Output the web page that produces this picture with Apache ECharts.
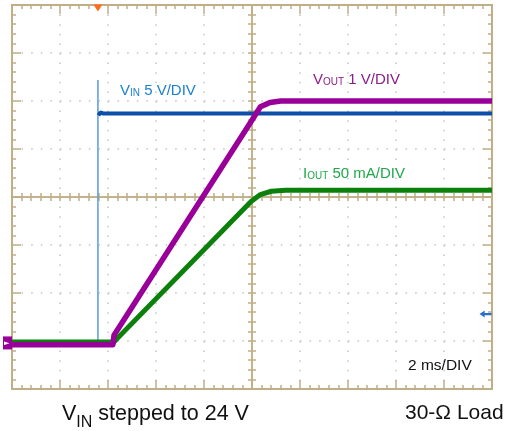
<!DOCTYPE html>
<html>
<head>
<meta charset="utf-8">
<script src="https://cdn.jsdelivr.net/npm/echarts@6/dist/echarts.min.js"></script>
<style>
  html, body { margin: 0; padding: 0; background: #fff; }
  #chart { width: 505px; height: 431px; }
</style>
</head>
<body>
<div id="chart"></div>
<script>
// time in ms (2 ms/DIV, 10 DIV across), level in divisions from bottom of screen (8 DIV)
const vinStepT = [0, 3.58, 3.58];
const vinStepV = [0.98, 0.98, 6.44];
const vinT = [3.6, 3.68, 3.8, 20];
const vinV = [5.70, 5.76, 5.74, 5.74];

const voutT = [0, 4.2, 4.25, 10.05, 10.35, 10.75, 11.2, 20];
const voutV = [0.92, 0.92, 1.12, 5.64, 5.88, 5.97, 6.0, 6.0];

const ioutT = [0, 4.25, 4.4, 9.95, 10.35, 10.8, 11.4, 20];
const ioutV = [0.98, 0.98, 1.06, 3.90, 4.05, 4.12, 4.14, 4.14];

const triggerT = 3.58;
const groundLevel = 0.96;
const vinRefT = 19.73;
const vinRefV = 1.56;

const FONT = "'Liberation Sans', Arial, sans-serif";
const TAN = '#c0ae86';
const DOT = '#c4c4c4';

const pairs = (t, v) => t.map((x, i) => [x, v[i]]);

const chart = echarts.init(document.getElementById('chart'));

const border = (pos, extra) => Object.assign({
  type: 'value', gridIndex: 0, position: pos,
  axisLine: { show: true, onZero: false, lineStyle: { color: TAN, width: 2 } },
  axisTick: { show: true, inside: true, length: 9, lineStyle: { color: TAN, width: 1.5 } },
  minorTick: { show: true, splitNumber: 5, length: 4, lineStyle: { color: TAN, width: 1.5 } },
  axisLabel: { show: false },
  splitLine: { show: false }
}, extra);

const center = (pos, offset, inside, extra) => Object.assign({
  type: 'value', gridIndex: 0, position: pos, offset: offset,
  axisLine: { show: true, onZero: false, lineStyle: { color: TAN, width: 1.5 } },
  axisTick: { show: true, inside: inside, length: 4, lineStyle: { color: TAN, width: 1.5 } },
  axisLabel: { show: false },
  splitLine: { show: false }
}, extra);

const option = {
  animation: false,
  backgroundColor: '#fff',
  grid: { left: 12, top: 5, width: 480, height: 384 },
  xAxis: [
    border('bottom', { min: 0, max: 20, interval: 2,
      splitLine: { show: true, lineStyle: { color: DOT, width: 1.5, type: [1.5, 8.1] } } }),
    border('top', { min: 0, max: 20, interval: 2 }),
    center('bottom', -192, true, { min: 0, max: 20, interval: 0.4 }),
    center('bottom', -192, false, { min: 0, max: 20, interval: 0.4 })
  ],
  yAxis: [
    border('left', { min: 0, max: 8, interval: 1,
      splitLine: { show: true, lineStyle: { color: DOT, width: 1.5, type: [1.5, 8.1] } } }),
    border('right', { min: 0, max: 8, interval: 1 }),
    center('left', -240, true, { min: 0, max: 8, interval: 0.2 }),
    center('left', -240, false, { min: 0, max: 8, interval: 0.2 })
  ],
  series: [
    {
      name: 'VIN step', type: 'line', xAxisIndex: 0, yAxisIndex: 0,
      data: pairs(vinStepT, vinStepV), symbol: 'none', z: 3,
      lineStyle: { color: '#5b9ae0', width: 1.5 },
      markPoint: {
        symbol: 'triangle', symbolRotate: 180, symbolSize: [9, 7], symbolOffset: [0, 3],
        itemStyle: { color: '#ff6b1a' }, label: { show: false },
        data: [{ coord: [triggerT, 8] }]
      }
    },
    {
      name: 'VIN', type: 'line', xAxisIndex: 0, yAxisIndex: 0,
      data: pairs(vinT, vinV), symbol: 'none', z: 3,
      lineStyle: { color: '#0c4fa8', width: 4 },
      markPoint: {
        symbol: 'path://M0,5 L6,0 L6,3.5 L14,3.5 L14,6.5 L6,6.5 L6,10 Z', symbolSize: [12, 7],
        itemStyle: { color: '#2a6fcf' }, label: { show: false },
        data: [{ coord: [vinRefT, vinRefV] }]
      }
    },
    {
      name: 'IOUT', type: 'line', xAxisIndex: 0, yAxisIndex: 0,
      data: pairs(ioutT, ioutV), symbol: 'none', z: 4,
      lineStyle: { color: '#0b800b', width: 5, join: 'round' }
    },
    {
      name: 'VOUT', type: 'line', xAxisIndex: 0, yAxisIndex: 0,
      data: pairs(voutT, voutV), symbol: 'none', z: 5,
      lineStyle: { color: '#990099', width: 5.5, join: 'round' }
    }
  ]
};
chart.setOption(option);

// ground marker at left of the screen, placed from the scale
const g = chart.convertToPixel({ xAxisIndex: 0, yAxisIndex: 0 }, [0, groundLevel]);

const sub = (color, size) => ({ fontSize: size, fontFamily: FONT, fill: color, verticalAlign: 'bottom', lineHeight: 13 });
const main = (color) => ({ fontSize: 15, fontFamily: FONT, fill: color, verticalAlign: 'bottom', lineHeight: 18 });

chart.setOption({
  graphic: [
    { type: 'rect', shape: { x: g[0] - 9, y: g[1] - 6.5, width: 9, height: 13 }, style: { fill: '#990099' }, z: 10 },
    { type: 'text', x: g[0] - 8, y: g[1], z: 11,
      style: { text: '►', fontSize: 7, fill: '#fff', verticalAlign: 'middle', fontFamily: 'DejaVu Sans' } },
    { type: 'text', x: 120, y: 80, z: 10,
      style: { text: '{m|V}{s|IN}{m| 5 V/DIV}', verticalAlign: 'top',
        rich: { m: main('#1b80d2'), s: sub('#1b80d2', 10) } } },
    { type: 'text', x: 313, y: 69, z: 10,
      style: { text: '{m|V}{s|OUT}{m| 1 V/DIV}', verticalAlign: 'top',
        rich: { m: main('#8a1d8a'), s: sub('#8a1d8a', 10) } } },
    { type: 'text', x: 303, y: 163, z: 10,
      style: { text: '{m|I}{s|OUT}{m| 50 mA/DIV}', verticalAlign: 'top',
        rich: { m: main('#20a84a'), s: sub('#20a84a', 10) } } },
    { type: 'text', x: 408, y: 366, z: 10,
      style: { text: '2 ms/DIV', fontSize: 15.5, fontFamily: FONT, fill: '#111', verticalAlign: 'middle' } },
    { type: 'text', x: 62, y: 403, z: 10,
      style: { text: '{m|V}{s|IN}{m| stepped to 24 V}', verticalAlign: 'top',
        rich: {
          m: { fontSize: 21.5, fontFamily: FONT, fill: '#111', verticalAlign: 'top', lineHeight: 28 },
          s: { fontSize: 16, fontFamily: FONT, fill: '#111', verticalAlign: 'bottom', lineHeight: 16 }
        } } },
    { type: 'text', x: 405, y: 413, z: 10,
      style: { text: '30-Ω Load', fontSize: 21, fontFamily: FONT, fill: '#111', verticalAlign: 'middle' } }
  ]
});
</script>
</body>
</html>
